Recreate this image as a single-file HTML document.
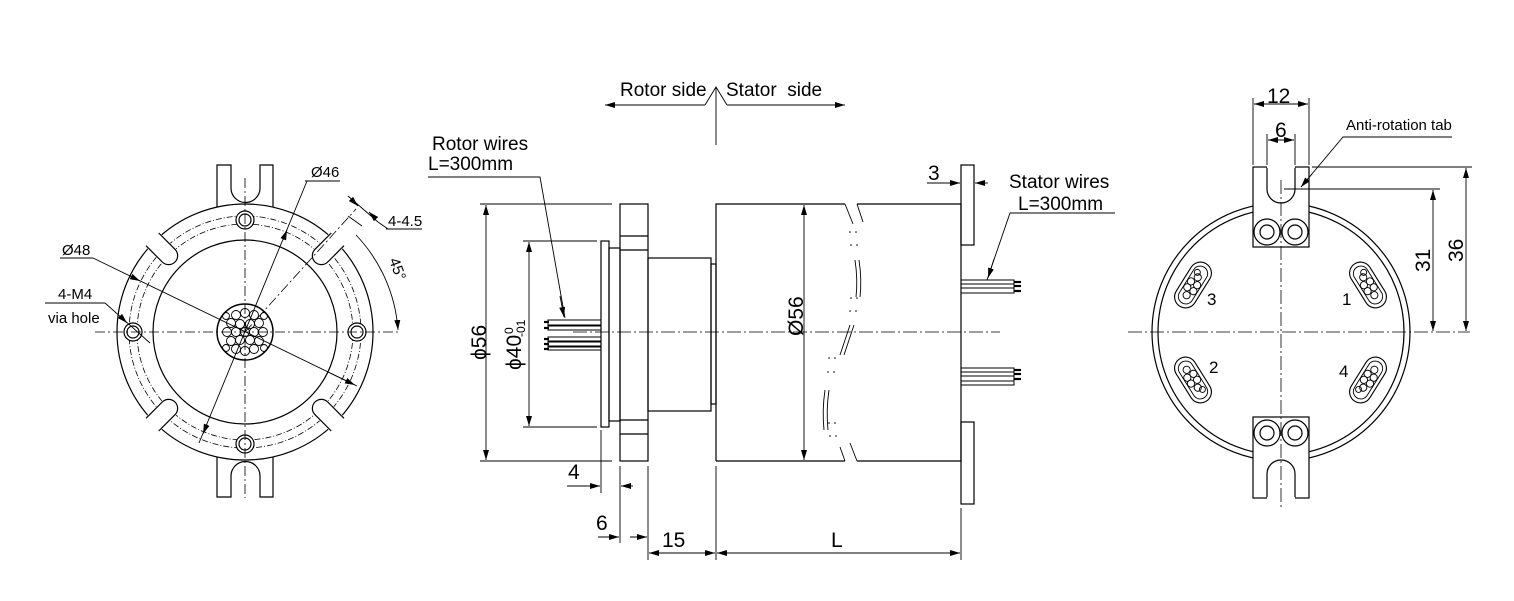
<!DOCTYPE html>
<html><head><meta charset="utf-8"><style>
html,body{margin:0;padding:0;background:#fff}
svg{display:block}
text{font-family:"Liberation Sans",Arial,sans-serif;fill:#000}
</style></head><body>
<svg width="1514" height="601" viewBox="0 0 1514 601" xmlns="http://www.w3.org/2000/svg">
<defs>
<marker id="a" viewBox="0 0 10 6" refX="10" refY="3" markerWidth="10" markerHeight="6" orient="auto-start-reverse" markerUnits="userSpaceOnUse"><path d="M0,0 L10,3 L0,6z" fill="#000"/></marker>
<g id="ov" fill="none" stroke="#000">
<rect x="-25" y="-11" width="50" height="22" rx="11" stroke-width="1.1"/>
<rect x="-21" y="-7.5" width="42" height="15" rx="7.5" stroke-width="0.9"/>
<g stroke-width="0.9"><circle cx="-12" cy="0" r="3.6"/><circle cx="-5" cy="-3.6" r="3.6"/><circle cx="-5" cy="3.6" r="3.6"/><circle cx="2" cy="-3.6" r="3.6"/><circle cx="2" cy="3.6" r="3.6"/><circle cx="9" cy="0" r="3.6"/><circle cx="13" cy="-3" r="3"/></g>
</g>
</defs>
<g fill="none" stroke="#000" stroke-width="1.2">
<!-- ================= LEFT VIEW ================= -->
<path d="M217,210 V165 H231 V188 A14.5,14.5 0 0 0 260,188 V165 H273 V210"/>
<path d="M217,454 V497 H231 V476 A14.5,14.5 0 0 1 260,476 V497 H273 V454"/>
<circle cx="245" cy="332" r="128" fill="#fff"/>
<circle cx="245" cy="332" r="92"/>
<circle cx="245" cy="332" r="108" stroke-dasharray="6,2,1,2" stroke-width="0.8"/>
<circle cx="245" cy="332" r="116" stroke-dasharray="6,2,1,2" stroke-width="0.8"/>
<g transform="rotate(-45 245 332)"><rect x="345" y="322" width="40" height="20" fill="#fff" stroke="none"/><path d="M376,323 H353 A9,9 0 0 0 353,341 H376"/></g>
<g transform="rotate(-135 245 332)"><rect x="345" y="322" width="40" height="20" fill="#fff" stroke="none"/><path d="M376,323 H353 A9,9 0 0 0 353,341 H376"/></g>
<g transform="rotate(45 245 332)"><rect x="345" y="322" width="40" height="20" fill="#fff" stroke="none"/><path d="M376,323 H353 A9,9 0 0 0 353,341 H376"/></g>
<g transform="rotate(135 245 332)"><rect x="345" y="322" width="40" height="20" fill="#fff" stroke="none"/><path d="M376,323 H353 A9,9 0 0 0 353,341 H376"/></g>
<circle cx="245" cy="220" r="9" fill="#fff"/><circle cx="245" cy="220" r="6"/>
<circle cx="245" cy="444" r="9" fill="#fff"/><circle cx="245" cy="444" r="6"/>
<circle cx="133" cy="332" r="9" fill="#fff"/><circle cx="133" cy="332" r="6"/>
<circle cx="357" cy="332" r="9" fill="#fff"/><circle cx="357" cy="332" r="6"/>
<circle cx="245" cy="332" r="28" stroke-width="1.5"/>
<g stroke-width="0.9">
<circle cx="245" cy="332" r="4.5"/><circle cx="236" cy="332" r="4.5"/><circle cx="254" cy="332" r="4.5"/>
<circle cx="227" cy="332" r="4.5"/><circle cx="263" cy="332" r="4.5"/>
<circle cx="240" cy="324" r="4.5"/><circle cx="250" cy="324" r="4.5"/><circle cx="231" cy="323" r="4.5"/><circle cx="259" cy="323" r="4.5"/>
<circle cx="240" cy="340" r="4.5"/><circle cx="250" cy="340" r="4.5"/><circle cx="231" cy="341" r="4.5"/><circle cx="259" cy="341" r="4.5"/>
<circle cx="236" cy="315" r="4.5"/><circle cx="245" cy="313" r="4.5"/><circle cx="254" cy="315" r="4.5"/>
<circle cx="236" cy="349" r="4.5"/><circle cx="245" cy="351" r="4.5"/><circle cx="254" cy="349" r="4.5"/>
<circle cx="226" cy="316" r="3.5"/><circle cx="264" cy="316" r="3.5"/><circle cx="226" cy="348" r="3.5"/><circle cx="264" cy="348" r="3.5"/>
</g>
<g stroke-width="0.8" stroke-dasharray="10,3,2,3">
<line x1="95" y1="332" x2="400" y2="332"/><line x1="245" y1="178" x2="245" y2="498"/>
<line x1="245" y1="332" x2="356" y2="209"/>
</g>
<line x1="305" y1="181" x2="340" y2="181" stroke-width="0.9"/>
<line x1="307" y1="181" x2="199" y2="443" stroke-width="0.9"/>
<line x1="283" y1="240" x2="287" y2="230" stroke-width="0.9" marker-end="url(#a)"/>
<line x1="207" y1="424" x2="203" y2="434" stroke-width="0.9" marker-end="url(#a)"/>
<line x1="60" y1="258" x2="93" y2="258" stroke-width="0.9"/>
<line x1="93" y1="258" x2="357" y2="386" stroke-width="0.9"/>
<line x1="330" y1="373" x2="355" y2="385" stroke-width="0.9" marker-end="url(#a)"/>
<line x1="130" y1="276" x2="140" y2="281" stroke-width="0.9" marker-end="url(#a)"/>
<line x1="45" y1="303" x2="105" y2="303" stroke-width="0.9"/>
<line x1="105" y1="303" x2="150" y2="343" stroke-width="0.9"/>
<line x1="120" y1="316" x2="127" y2="323" stroke-width="0.9" marker-end="url(#a)"/>
<line x1="348" y1="196" x2="378" y2="222" stroke-width="0.9"/>
<line x1="378" y1="222" x2="388" y2="229" stroke-width="0.9"/>
<line x1="386" y1="229" x2="422" y2="229" stroke-width="0.9"/>
<line x1="352" y1="200" x2="358" y2="206" stroke-width="0.9" marker-end="url(#a)"/>
<line x1="375" y1="218" x2="369" y2="212" stroke-width="0.9" marker-end="url(#a)"/>
<line x1="348" y1="216" x2="362" y2="226" stroke-width="0.9"/>
<path d="M356,235 A153,153 0 0 1 398,330" stroke-width="0.9" marker-end="url(#a)"/>

<!-- ================= MIDDLE VIEW ================= -->
<line x1="705" y1="105" x2="605" y2="105" stroke-width="0.9" marker-end="url(#a)"/>
<line x1="727" y1="105" x2="845" y2="105" stroke-width="0.9" marker-end="url(#a)"/>
<path d="M705,105 L716,87 L727,105" stroke-width="0.9"/>
<line x1="716" y1="87" x2="716" y2="145" stroke-width="0.9"/>
<rect x="620" y="204" width="28" height="257"/>
<line x1="620" y1="236" x2="648" y2="236"/><line x1="620" y1="250" x2="648" y2="250"/>
<line x1="620" y1="420" x2="648" y2="420"/><line x1="620" y1="434" x2="648" y2="434"/>
<rect x="601" y="241" width="8" height="186"/>
<rect x="609" y="248" width="11" height="173"/>
<rect x="648" y="258" width="63" height="153"/>
<rect x="711" y="264" width="5" height="140"/>
<path d="M716,461 V204 H845 M857,204 H961 V461 H857 M845,461 H716"/>
<rect x="961" y="165" width="13" height="80"/>
<rect x="961" y="422" width="13" height="82"/>
<g stroke-width="0.9">
<path d="M845,204 L853,224 M857,204 L863,222"/>
<path d="M845,461 L840,447 M857,461 L850,443"/>
<path d="M855,260 Q858,280 856,297 M859,260 Q862,280 860,297"/>
<path d="M825,390 Q822,410 824,430 M829,390 Q826,410 828,430"/>
<path d="M840,355 L850,325 M844,355 L854,325"/>
</g>
<g fill="#000" stroke="none">
<circle cx="850" cy="232" r="0.8"/><circle cx="856" cy="232" r="0.8"/><circle cx="851" cy="245" r="0.8"/><circle cx="857" cy="245" r="0.8"/>
<circle cx="851" cy="298" r="0.8"/><circle cx="857" cy="298" r="0.8"/><circle cx="850" cy="311" r="0.8"/><circle cx="856" cy="311" r="0.8"/>
<circle cx="829" cy="358" r="0.8"/><circle cx="835" cy="358" r="0.8"/><circle cx="828" cy="372" r="0.8"/><circle cx="834" cy="372" r="0.8"/>
<circle cx="829" cy="423" r="0.8"/><circle cx="835" cy="423" r="0.8"/><circle cx="830" cy="436" r="0.8"/><circle cx="836" cy="436" r="0.8"/>
</g>
<g stroke-width="1">
<rect x="548" y="320" width="53" height="5"/><rect x="548" y="326" width="53" height="4"/>
<rect x="548" y="337" width="53" height="4"/><rect x="548" y="342" width="53" height="4"/><rect x="548" y="347" width="53" height="3"/>
</g>
<g stroke-width="2.2"><line x1="544" y1="322" x2="549" y2="322"/><line x1="544" y1="328" x2="549" y2="328"/><line x1="544" y1="339" x2="549" y2="339"/><line x1="544" y1="344" x2="549" y2="344"/><line x1="544" y1="349" x2="549" y2="349"/></g>
<g stroke-width="1">
<rect x="961" y="280" width="53" height="4"/><rect x="961" y="284" width="53" height="4"/><rect x="961" y="288" width="53" height="5"/>
<rect x="961" y="368" width="53" height="4"/><rect x="961" y="372" width="53" height="4"/><rect x="961" y="376" width="53" height="5"/><rect x="961" y="381" width="53" height="4"/>
</g>
<g stroke-width="2.2"><line x1="1014" y1="282" x2="1021" y2="282"/><line x1="1014" y1="286" x2="1021" y2="286"/><line x1="1014" y1="291" x2="1021" y2="291"/>
<line x1="1014" y1="370" x2="1021" y2="370"/><line x1="1014" y1="374" x2="1021" y2="374"/><line x1="1014" y1="379" x2="1021" y2="379"/></g>
<line x1="573" y1="332" x2="1000" y2="332" stroke-width="0.8" stroke-dasharray="14,3,2,3"/>
<g stroke-width="0.9">
<polyline points="428,177 540,177 565,318"/>
<line x1="560" y1="296" x2="564" y2="317" marker-end="url(#a)"/>
<polyline points="1115,213 1010,213 987,280"/>
<line x1="994" y1="259" x2="988" y2="278" marker-end="url(#a)"/>
<line x1="480" y1="204" x2="612" y2="204"/><line x1="480" y1="461" x2="612" y2="461"/>
<line x1="486" y1="332" x2="486" y2="205" marker-end="url(#a)"/><line x1="486" y1="332" x2="486" y2="460" marker-end="url(#a)"/>
<line x1="523" y1="241" x2="597" y2="241"/><line x1="523" y1="427" x2="597" y2="427"/>
<line x1="529" y1="332" x2="529" y2="242" marker-end="url(#a)"/><line x1="529" y1="332" x2="529" y2="426" marker-end="url(#a)"/>
<line x1="804" y1="332" x2="804" y2="205" marker-end="url(#a)"/><line x1="804" y1="332" x2="804" y2="460" marker-end="url(#a)"/>
<line x1="601" y1="430" x2="601" y2="493"/><line x1="620" y1="466" x2="620" y2="543"/>
<line x1="648" y1="466" x2="648" y2="560"/><line x1="716" y1="466" x2="716" y2="560"/><line x1="961" y1="508" x2="961" y2="560"/>
<line x1="567" y1="486" x2="600" y2="486" marker-end="url(#a)"/><line x1="633" y1="486" x2="621" y2="486" marker-end="url(#a)"/>
<line x1="598" y1="537" x2="619" y2="537" marker-end="url(#a)"/><line x1="630" y1="537" x2="647" y2="537" marker-end="url(#a)"/>
<line x1="649" y1="553" x2="715" y2="553" marker-start="url(#a)" marker-end="url(#a)"/>
<line x1="717" y1="553" x2="960" y2="553" marker-start="url(#a)" marker-end="url(#a)"/>
<line x1="927" y1="183" x2="960" y2="183" marker-end="url(#a)"/><line x1="988" y1="183" x2="975" y2="183" marker-end="url(#a)"/>
</g>

<!-- ================= RIGHT VIEW ================= -->
<circle cx="1281" cy="332" r="129"/>
<circle cx="1281" cy="332" r="123"/>
<rect x="1253" y="167" width="56" height="80" fill="#fff"/>
<path d="M1267,167 V189 A14,14 0 0 0 1295,189 V167" fill="#fff"/>
<line x1="1267" y1="167" x2="1295" y2="167" stroke="#fff" stroke-width="2"/>
<circle cx="1267" cy="232" r="13"/><circle cx="1267" cy="232" r="7"/>
<circle cx="1295" cy="232" r="13"/><circle cx="1295" cy="232" r="7"/>
<rect x="1253" y="417" width="56" height="81" fill="#fff"/>
<path d="M1267,498 V474 A14,14 0 0 1 1295,474 V498" fill="#fff"/>
<line x1="1267" y1="498" x2="1295" y2="498" stroke="#fff" stroke-width="2"/>
<circle cx="1267" cy="433" r="13"/><circle cx="1267" cy="433" r="7"/>
<circle cx="1295" cy="433" r="13"/><circle cx="1295" cy="433" r="7"/>
<use href="#ov" transform="translate(1193,285) rotate(-58)"/>
<use href="#ov" transform="translate(1368,285) rotate(58) scale(-1,1)"/>
<use href="#ov" transform="translate(1193,380) rotate(58)"/>
<use href="#ov" transform="translate(1368,380) rotate(-58) scale(-1,1)"/>
<g stroke-width="0.8" stroke-dasharray="14,3,2,3">
<line x1="1128" y1="332" x2="1470" y2="332"/><line x1="1281" y1="180" x2="1281" y2="510"/>
</g>
<g stroke-width="0.9">
<line x1="1253" y1="165" x2="1253" y2="98"/><line x1="1309" y1="165" x2="1309" y2="98"/>
<line x1="1267" y1="165" x2="1267" y2="134"/><line x1="1295" y1="165" x2="1295" y2="134"/>
<line x1="1254" y1="104" x2="1308" y2="104" marker-start="url(#a)" marker-end="url(#a)"/>
<line x1="1268" y1="140" x2="1294" y2="140" marker-start="url(#a)" marker-end="url(#a)"/>
<polyline points="1452,137 1343,137 1301,187"/>
<line x1="1312" y1="174" x2="1301" y2="187" marker-end="url(#a)"/>
<line x1="1284" y1="189" x2="1440" y2="189"/><line x1="1312" y1="167" x2="1472" y2="167"/>
<line x1="1433" y1="190" x2="1433" y2="331" marker-start="url(#a)" marker-end="url(#a)"/>
<line x1="1466" y1="168" x2="1466" y2="331" marker-start="url(#a)" marker-end="url(#a)"/>
</g>
</g>
<!-- texts -->
<text x="311" y="177" font-size="15">Ø46</text>
<text x="62" y="255" font-size="15">Ø48</text>
<text x="388" y="226" font-size="15">4-4.5</text>
<text x="58" y="299" font-size="15">4-M4</text>
<text x="48" y="323" font-size="15">via hole</text>
<text font-size="15" transform="translate(389,260) rotate(70)">45°</text>

<text x="620" y="96" font-size="19">Rotor side</text>
<text x="726" y="96" font-size="19" xml:space="preserve">Stator  side</text>
<text x="432" y="150" font-size="19">Rotor wires</text>
<text x="428" y="170" font-size="19">L=300mm</text>
<text x="1009" y="188" font-size="19">Stator wires</text>
<text x="1018" y="210" font-size="19">L=300mm</text>
<text x="928" y="180" font-size="21">3</text>
<text x="568" y="479" font-size="21">4</text>
<text x="596" y="530" font-size="21">6</text>
<text x="662" y="547" font-size="21">15</text>
<text x="831" y="547" font-size="21">L</text>
<text font-size="21" transform="translate(486,360) rotate(-90)">ϕ56</text>
<text font-size="21" transform="translate(521,370) rotate(-90)">ϕ40</text>
<text font-size="12" transform="translate(513,334) rotate(-90)">0</text>
<text font-size="12" transform="translate(525,337) rotate(-90)">-01</text>
<text font-size="21" transform="translate(803,336) rotate(-90)">Ø56</text>

<text x="1267" y="103" font-size="21">12</text>
<text x="1275" y="137" font-size="21">6</text>
<text x="1346" y="130" font-size="15">Anti-rotation tab</text>
<text x="1207" y="305" font-size="17">3</text>
<text x="1342" y="305" font-size="17">1</text>
<text x="1209" y="373" font-size="17">2</text>
<text x="1339" y="377" font-size="17">4</text>
<text font-size="21" transform="translate(1430,272) rotate(-90)">31</text>
<text font-size="21" transform="translate(1463,262) rotate(-90)">36</text>
</svg>
</body></html>
